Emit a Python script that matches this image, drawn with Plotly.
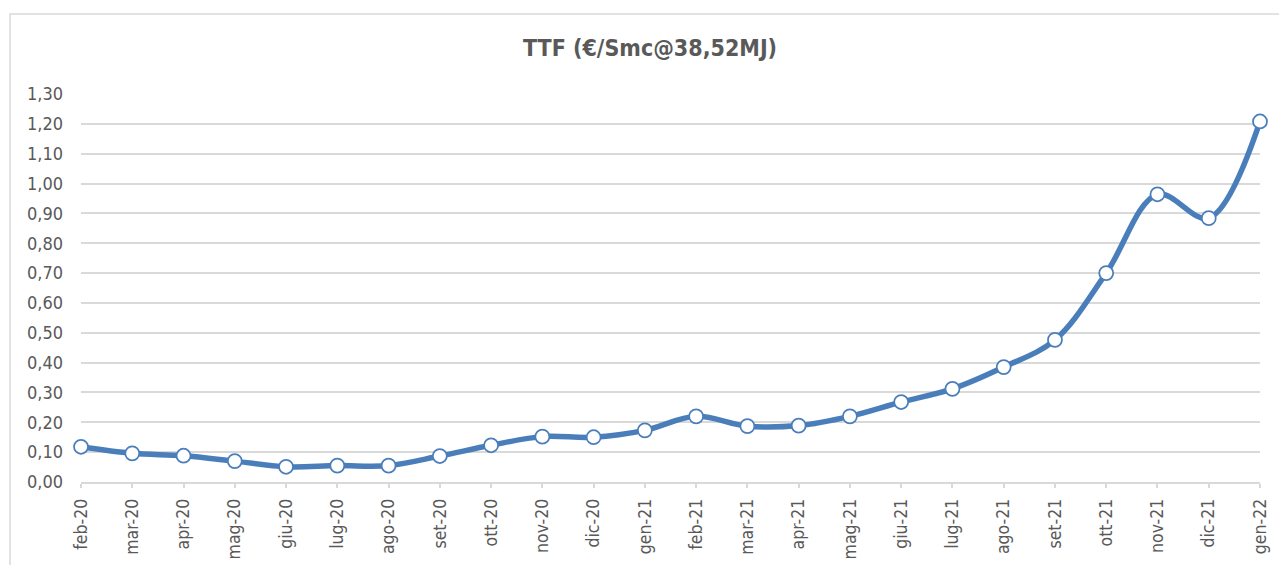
import plotly.graph_objects as go

categories = ["feb-20", "mar-20", "apr-20", "mag-20", "giu-20", "lug-20", "ago-20",
              "set-20", "ott-20", "nov-20", "dic-20", "gen-21", "feb-21", "mar-21",
              "apr-21", "mag-21", "giu-21", "lug-21", "ago-21", "set-21", "ott-21",
              "nov-21", "dic-21", "gen-22"]
ttf_values = [0.118, 0.096, 0.088, 0.070, 0.051, 0.055, 0.055, 0.087, 0.123, 0.152,
              0.150, 0.173, 0.220, 0.187, 0.189, 0.220, 0.268, 0.312, 0.385, 0.476,
              0.700, 0.964, 0.884, 1.208]
y_ticks = [round(i * 0.1, 2) for i in range(14)]
title_text = "TTF (€/Smc@38,52MJ)"

FONT = "'DejaVu Sans Condensed', 'DejaVu Sans', sans-serif"
GRAY = "#595959"
GRID = "#d9d9d9"
BLUE = "#4a7ebb"

x_idx = list(range(len(categories)))

fig = go.Figure()
fig.add_trace(go.Scatter(
    x=x_idx, y=ttf_values, mode="lines+markers",
    line=dict(color=BLUE, width=5.5, shape="spline", smoothing=1),
    marker=dict(size=14, color="white", line=dict(color=BLUE, width=1.75)),
    cliponaxis=False, hoverinfo="x+y", showlegend=False,
))

fig.update_layout(
    width=1279, height=565,
    margin=dict(l=81, r=19, t=94, b=83, autoexpand=False),
    paper_bgcolor="white", plot_bgcolor="white",
    separators=",.",
    font=dict(family=FONT, color=GRAY, size=17),
    title=dict(text="<b>" + title_text + "</b>", x=0.4826, xref="paper",
               y=1 - 48 / 565, yref="container", xanchor="center", yanchor="middle",
               font=dict(family=FONT, size=23, color=GRAY)),
    xaxis=dict(
        range=[0, len(categories) - 1], automargin=False,
        tickmode="array", tickvals=x_idx, ticktext=categories,
        tickangle=-90, showgrid=False, zeroline=False,
        showline=True, linecolor=GRID, linewidth=1.5,
        ticks="outside", ticklen=4, tickcolor=GRID, tickwidth=1.5,
        ticklabelstandoff=4,
        tickfont=dict(family=FONT, size=17.5, color=GRAY),
    ),
    yaxis=dict(
        range=[0, 1.30], tickmode="array", tickvals=y_ticks, automargin=False,
        tickformat=".2f", showgrid=True, gridcolor=GRID, gridwidth=1.5,
        zeroline=False, showline=False, ticks="", ticklabelstandoff=17,
        tickfont=dict(family=FONT, size=18, color=GRAY),
    ),
    shapes=[dict(type="rect", xref="paper", yref="paper",
                 x0=-0.0602, x1=1.03, y0=-0.25, y1=1.2062,
                 line=dict(color=GRID, width=1.5), fillcolor="rgba(0,0,0,0)",
                 layer="below")],
)

fig.write_html(
    "out.html",
    config={"displayModeBar": False},
    post_script="document.body.style.margin='0';document.body.style.overflow='hidden';",
)
